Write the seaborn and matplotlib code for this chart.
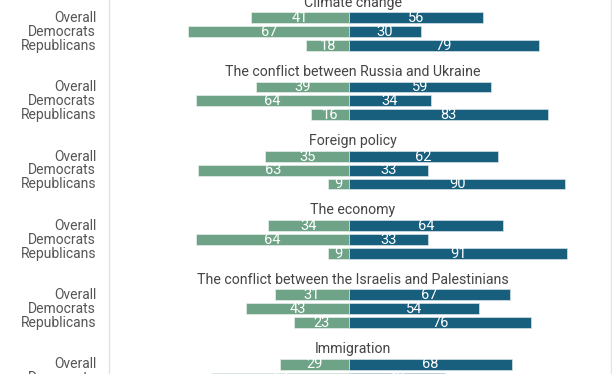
import numpy as np
import pandas as pd
import matplotlib
matplotlib.use("Agg")
import matplotlib.pyplot as plt
import seaborn as sns

# data
topics = ["Climate change",
          "The conflict between Russia and Ukraine",
          "Foreign policy",
          "The economy",
          "The conflict between the Israelis and Palestinians",
          "Immigration"]
groups = ["Overall", "Democrats", "Republicans"]
left_vals = [[41, 67, 18],
             [39, 64, 16],
             [35, 63, 9],
             [34, 64, 9],
             [31, 43, 23],
             [29, 57]]
right_vals = [[56, 30, 79],
              [59, 34, 83],
              [62, 33, 90],
              [64, 33, 91],
              [67, 54, 76],
              [68, 40]]

green = "#6fa387"
blue = "#185e7d"

# build long table, y in pixel rows from top
rows = []
for g, topic in enumerate(topics):
    for r in range(len(left_vals[g])):
        y = 17.7 + g * 69.3 + r * 13.86
        rows.append({"topic": topic, "group": groups[r], "y": y,
                     "left": -left_vals[g][r], "right": right_vals[g][r]})
df = pd.DataFrame(rows)

sns.set_style("white")
plt.rcParams["font.family"] = ["Roboto", "DejaVu Sans"]

fig = plt.figure(figsize=(6.12, 3.74), dpi=100)
ax = fig.add_axes([109.3 / 612, 0, (611 - 109.3) / 612, 1])

sns.barplot(data=df, x="left", y="y", orient="y", native_scale=True,
            color=green, width=0.78, edgecolor="#e8efeb", linewidth=0.5,
            saturation=1, ax=ax)
sns.barplot(data=df, x="right", y="y", orient="y", native_scale=True,
            color=blue, width=0.78, edgecolor="#d6e3ea", linewidth=0.5,
            saturation=1, ax=ax)

# values inside the bars
for _, row in df.iterrows():
    ax.text(row["left"] / 2, row["y"] + 0.3, str(-row["left"]), color="white",
            ha="center", va="center", fontsize=10.5)
    ax.text(row["right"] / 2, row["y"] + 0.3, str(row["right"]), color="white",
            ha="center", va="center", fontsize=10.5)
    # group labels on the left, outside the axes
    ax.text(-105.5, row["y"] + 0.3, row["group"], color="#555555",
            ha="right", va="center", fontsize=10, clip_on=False)

# topic titles
for g, topic in enumerate(topics):
    ax.text(1.5, 17.7 + g * 69.3 - 15.2, topic, color="#444444",
            ha="center", va="center", fontsize=10.2)

ax.set_xlim(-100, 109.2)
ax.set_ylim(374, 0)
ax.set_xlabel("")
ax.set_ylabel("")
ax.set_xticks([])
ax.set_yticks([])
for side in ["top", "bottom"]:
    ax.spines[side].set_visible(False)
for side in ["left", "right"]:
    ax.spines[side].set_color("#e2e2e2")
    ax.spines[side].set_linewidth(1)

plt.savefig("out.png", dpi=100)
